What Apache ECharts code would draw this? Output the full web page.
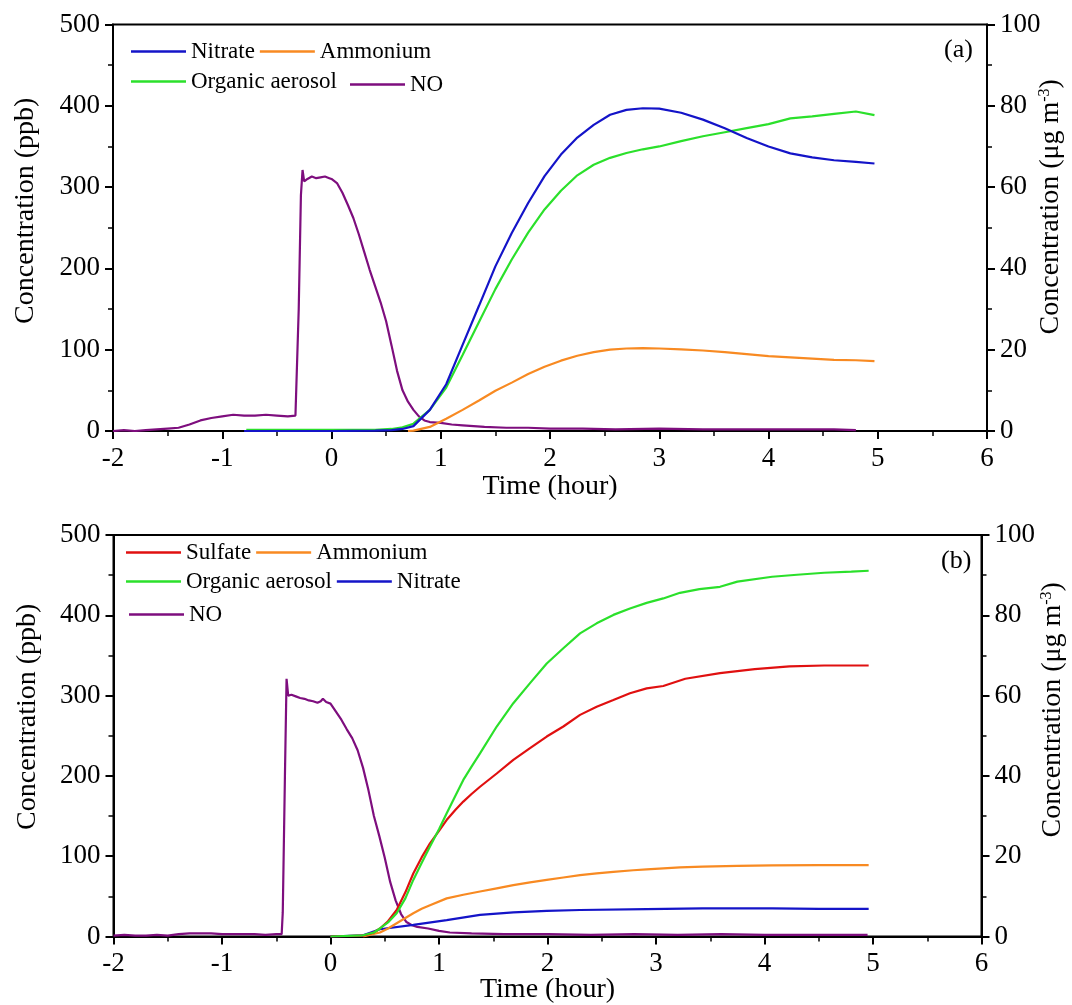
<!DOCTYPE html>
<html>
<head>
<meta charset="utf-8">
<script src="https://cdn.jsdelivr.net/npm/echarts@6/dist/echarts.min.js"></script>
<style>
html,body{margin:0;padding:0;background:#fff;}
#chart{width:1072px;height:1005px;}
</style>
</head>
<body>
<div id="chart"></div>
<script>
// ---------- Data (time in hours, NO in ppb, aerosols in µg m-3) ----------
// Panel (a)
var a_NO = [[-2.0,0],[-1.9,1],[-1.8,0],[-1.7,1],[-1.6,2],[-1.5,3],[-1.4,4],[-1.3,8],[-1.2,13],[-1.1,16],[-1.0,18],[-0.9,20],[-0.8,19],[-0.7,19],[-0.6,20],[-0.5,19],[-0.4,18],[-0.33,19],[-0.32,19],[-0.30,150],[-0.28,290],[-0.265,321],[-0.25,307],[-0.22,310],[-0.18,313],[-0.14,311],[-0.1,312],[-0.06,313],[-0.02,311],[0.0,310],[0.05,305],[0.1,293],[0.15,278],[0.2,262],[0.25,242],[0.3,220],[0.35,198],[0.4,178],[0.45,158],[0.5,135],[0.55,105],[0.6,74],[0.65,50],[0.7,36],[0.75,26],[0.8,18],[0.85,13],[0.9,11],[1.0,10],[1.1,8],[1.2,7],[1.4,5],[1.6,4],[1.8,4],[2.0,3],[2.3,3],[2.6,2],[3.0,3],[3.4,2],[3.8,2],[4.2,2],[4.6,2],[4.8,1]];
var a_Nitrate = [[-0.8,0],[0.0,0],[0.4,0.1],[0.55,0.2],[0.65,0.5],[0.75,1.2],[0.9,5.2],[1.05,11.5],[1.2,21.2],[1.35,30.8],[1.5,40.5],[1.65,48.7],[1.8,56.1],[1.95,62.7],[2.1,68.0],[2.25,72.2],[2.4,75.3],[2.55,77.8],[2.7,79.0],[2.85,79.4],[3.0,79.3],[3.2,78.3],[3.4,76.6],[3.6,74.5],[3.8,72.1],[4.0,70.0],[4.2,68.3],[4.4,67.3],[4.6,66.6],[4.8,66.2],[4.97,65.8]];
var a_Ammonium = [[0.7,0],[0.75,0.1],[0.9,1.0],[1.05,3.0],[1.2,5.2],[1.35,7.5],[1.5,9.9],[1.65,11.9],[1.8,14.0],[1.95,15.8],[2.1,17.3],[2.25,18.5],[2.4,19.4],[2.55,20.0],[2.7,20.3],[2.85,20.4],[3.0,20.3],[3.2,20.1],[3.4,19.8],[3.6,19.4],[3.8,18.9],[4.0,18.4],[4.2,18.1],[4.4,17.8],[4.6,17.5],[4.8,17.4],[4.97,17.2]];
var a_Organic = [[-0.78,0.3],[0.0,0.3],[0.4,0.3],[0.55,0.5],[0.65,0.9],[0.75,1.8],[0.9,5.2],[1.05,10.7],[1.2,18.7],[1.35,26.8],[1.5,34.9],[1.65,42.2],[1.8,48.8],[1.95,54.5],[2.1,59.1],[2.25,62.9],[2.4,65.5],[2.55,67.2],[2.7,68.4],[2.85,69.3],[3.0,70.0],[3.2,71.3],[3.4,72.5],[3.6,73.5],[3.8,74.5],[4.0,75.5],[4.2,76.9],[4.4,77.4],[4.6,78.0],[4.8,78.6],[4.97,77.7]];
// Panel (b)
var b_NO = [[-2.0,1],[-1.9,2],[-1.8,1],[-1.7,1],[-1.6,2],[-1.5,1],[-1.4,3],[-1.3,4],[-1.2,4],[-1.1,4],[-1.0,3],[-0.9,3],[-0.8,3],[-0.7,3],[-0.6,2],[-0.5,3],[-0.45,3],[-0.44,30],[-0.42,200],[-0.405,321],[-0.39,300],[-0.36,301],[-0.32,299],[-0.28,297],[-0.24,296],[-0.2,294],[-0.16,293],[-0.12,291],[-0.09,293],[-0.07,296],[-0.04,292],[0.0,290],[0.05,280],[0.1,270],[0.15,258],[0.2,247],[0.25,232],[0.3,210],[0.35,182],[0.4,150],[0.45,125],[0.5,98],[0.55,68],[0.6,45],[0.65,28],[0.7,18],[0.75,14],[0.8,12],[0.9,10],[1.0,7],[1.1,5],[1.3,4],[1.6,3],[2.0,3],[2.4,2],[2.8,3],[3.2,2],[3.6,3],[4.0,2],[4.4,2],[4.8,2],[4.95,2]];
var b_Sulfate = [[0.0,0],[0.3,0.2],[0.4,1.0],[0.456,2.0],[0.53,3.8],[0.61,6.6],[0.69,11.0],[0.763,15.7],[0.84,19.7],[0.917,23.2],[1.0,26.3],[1.07,29.0],[1.15,31.5],[1.224,33.6],[1.3,35.5],[1.378,37.3],[1.532,40.6],[1.685,44.0],[1.839,46.9],[1.993,49.8],[2.146,52.3],[2.3,55.2],[2.453,57.2],[2.607,58.9],[2.76,60.6],[2.914,61.8],[3.067,62.4],[3.27,64.2],[3.59,65.6],[3.91,66.6],[4.23,67.3],[4.55,67.5],[4.96,67.5]];
var b_Ammonium = [[0.3,0],[0.456,1.0],[0.53,2.0],[0.61,3.3],[0.69,4.6],[0.763,5.8],[0.84,6.9],[0.917,7.8],[1.071,9.5],[1.224,10.4],[1.378,11.2],[1.532,12.0],[1.685,12.8],[1.839,13.5],[1.993,14.1],[2.146,14.7],[2.3,15.3],[2.453,15.7],[2.607,16.1],[2.79,16.5],[2.914,16.7],[3.221,17.2],[3.43,17.4],[3.75,17.6],[4.07,17.7],[4.5,17.8],[4.96,17.8]];
var b_Organic = [[0.0,0],[0.3,0.3],[0.4,1.0],[0.456,2.0],[0.53,3.5],[0.61,5.8],[0.69,9.5],[0.763,14.1],[0.84,18.3],[0.917,22.4],[1.0,26.7],[1.071,30.7],[1.15,35.0],[1.224,39.0],[1.3,42.3],[1.378,45.6],[1.532,52.3],[1.685,58.1],[1.839,63.1],[1.993,68.0],[2.146,71.8],[2.3,75.5],[2.453,78.0],[2.607,80.1],[2.76,81.7],[2.914,83.1],[3.067,84.2],[3.221,85.6],[3.4,86.5],[3.59,87.1],[3.75,88.4],[4.07,89.6],[4.3,90.1],[4.55,90.6],[4.8,90.9],[4.96,91.1]];
var b_Nitrate = [[0.0,0],[0.3,0.3],[0.456,1.8],[0.763,2.9],[1.071,4.1],[1.378,5.4],[1.685,6.0],[1.993,6.4],[2.3,6.6],[2.914,6.8],[3.43,7.0],[4.07,7.0],[4.5,6.9],[4.96,6.9]];

var xTicks = {min: -2, max: 6, interval: 1};
var leftTicks = {min: 0, max: 500, interval: 100};
var rightTicks = {min: 0, max: 100, interval: 20};

// ---------- Styling ----------
var FONT = "'Liberation Serif','Times New Roman',serif";
var COL = {Nitrate:'#1414C8', Ammonium:'#F88A22', Organic:'#2BE02B', NO:'#7E0E7E', Sulfate:'#E01010'};
var TICKFS = 27, TITLEFS = 28;

function xAxis(gi, gap){
  return {
    type:'value', gridIndex:gi, min:xTicks.min, max:xTicks.max, interval:xTicks.interval,
    name:'Time (hour)', nameLocation:'middle', nameGap:gap, nameMoveOverlap:false,
    nameTextStyle:{fontFamily:FONT, fontSize:TITLEFS, color:'#000'},
    axisLine:{show:true, onZero:false, lineStyle:{color:'#000', width:2}},
    axisTick:{show:true, length:8, lineStyle:{color:'#000', width:2}},
    minorTick:{show:true, splitNumber:2, length:5, lineStyle:{color:'#000', width:1.5}},
    splitLine:{show:false},
    axisLabel:{fontFamily:FONT, fontSize:TICKFS, color:'#000', margin:14}
  };
}
function yLeft(gi, gap, shift){
  return {
    type:'value', gridIndex:gi, position:'left', min:leftTicks.min, max:leftTicks.max, interval:leftTicks.interval,
    name:'Concentration (ppb)', nameLocation:'middle', nameGap:gap, nameRotate:90, nameMoveOverlap:false,
    nameTextStyle:{fontFamily:FONT, fontSize:TITLEFS, color:'#000', padding:[0,0,0,shift]},
    axisLine:{show:true, onZero:false, lineStyle:{color:'#000', width:2}},
    axisTick:{show:true, length:8, lineStyle:{color:'#000', width:2}},
    minorTick:{show:true, splitNumber:2, length:5, lineStyle:{color:'#000', width:1.5}},
    splitLine:{show:false},
    axisLabel:{fontFamily:FONT, fontSize:TICKFS, color:'#000', margin:13}
  };
}
function yRight(gi, gap, shift){
  return {
    type:'value', gridIndex:gi, position:'right', min:rightTicks.min, max:rightTicks.max, interval:rightTicks.interval,
    name:'{n|Concentration (μg m}{s|-3}{n|)}', nameLocation:'middle', nameGap:gap, nameRotate:90, nameMoveOverlap:false,
    nameTextStyle:{fontFamily:FONT, fontSize:TITLEFS, color:'#000', padding:[0,0,0,shift],
      rich:{n:{fontFamily:FONT, fontSize:TITLEFS, color:'#000'}, s:{fontFamily:FONT, fontSize:16, color:'#000', verticalAlign:'top', padding:[0,0,12,0]}}},
    axisLine:{show:true, onZero:false, lineStyle:{color:'#000', width:2}},
    axisTick:{show:true, length:8, lineStyle:{color:'#000', width:2}},
    minorTick:{show:true, splitNumber:2, length:5, lineStyle:{color:'#000', width:1.5}},
    splitLine:{show:false},
    axisLabel:{fontFamily:FONT, fontSize:TICKFS, color:'#000', margin:13}
  };
}
function line(name, color, data, xi, yi){
  return {type:'line', name:name, data:data, xAxisIndex:xi, yAxisIndex:yi, symbol:'none',
    lineStyle:{color:color, width:2.2}, itemStyle:{color:color}, animation:false, clip:true};
}
function legend(names, left, top){
  return {data:names, left:left, top:top, orient:'horizontal', itemGap:5, itemWidth:55, itemHeight:2.5,
    icon:'rect', padding:0, selectedMode:false,
    textStyle:{fontFamily:FONT, fontSize:23, color:'#000'}};
}

var option = {
  backgroundColor:'#fff',
  animation:false,
  grid:[
    {left:113, top:24.5, width:874, height:406.5, show:true, borderColor:'#000', borderWidth:2, backgroundColor:'transparent', containLabel:false, outerBoundsMode:'none'},
    {left:113.5, top:535, width:868, height:401.5, show:true, borderColor:'#000', borderWidth:2, backgroundColor:'transparent', containLabel:false, outerBoundsMode:'none'}
  ],
  xAxis:[xAxis(0, 42), xAxis(1, 39)],
  yAxis:[yLeft(0, 73, 34), yRight(0, 50, 42), yLeft(1, 72, 38), yRight(1, 57, 52)],
  legend:[
    legend(['Nitrate','Ammonium'], 131, 40),
    legend(['Organic aerosol'], 131, 70),
    legend(['NO'], 350, 73),
    legend(['Sulfate','Ammonium'], 126, 541),
    legend(['Organic aerosol','Nitrate'], 126, 570),
    legend(['NO'], 129, 603)
  ],
  title:[
    {text:'(a)', left:944, top:37, textStyle:{fontFamily:FONT, fontSize:26, fontWeight:'normal', color:'#000'}, padding:0},
    {text:'(b)', left:941, top:548, textStyle:{fontFamily:FONT, fontSize:26, fontWeight:'normal', color:'#000'}, padding:0}
  ],
  series:[
    line('NO', COL.NO, a_NO, 0, 0),
    line('Ammonium', COL.Ammonium, a_Ammonium, 0, 1),
    line('Organic aerosol', COL.Organic, a_Organic, 0, 1),
    line('Nitrate', COL.Nitrate, a_Nitrate, 0, 1),
    line('NO', COL.NO, b_NO, 1, 2),
    line('Nitrate', COL.Nitrate, b_Nitrate, 1, 3),
    line('Ammonium', COL.Ammonium, b_Ammonium, 1, 3),
    line('Sulfate', COL.Sulfate, b_Sulfate, 1, 3),
    line('Organic aerosol', COL.Organic, b_Organic, 1, 3)
  ]
};
var chart = echarts.init(document.getElementById('chart'), null, {renderer:'canvas'});
chart.setOption(option);
</script>
</body>
</html>
